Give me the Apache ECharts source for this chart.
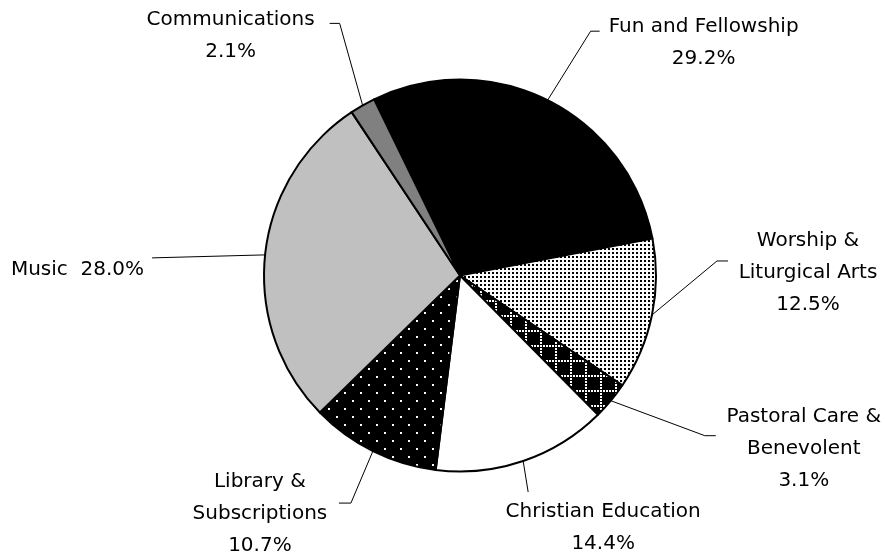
<!DOCTYPE html>
<html>
<head>
<meta charset="utf-8">
<script src="https://cdn.jsdelivr.net/npm/echarts@6/dist/echarts.min.js"></script>
<style>
  html, body { margin: 0; padding: 0; background: #fff; }
  #chart { width: 885px; height: 559px; }
</style>
</head>
<body>
<div id="chart"></div>
<script>
// ---- data ----
const categories = ['Fun and Fellowship', 'Worship &\nLiturgical Arts', 'Pastoral Care &\nBenevolent',
  'Christian Education', 'Library &\nSubscriptions', 'Music', 'Communications'];
const values = [29.2, 12.5, 3.1, 14.4, 10.7, 28.0, 2.1];
const labelSeparators = ['\n', '\n', '\n', '\n', '\n', '  ', '\n'];

// ---- styles ----
function makePattern(size, bg, fg, draw) {
  const c = document.createElement('canvas');
  c.width = size; c.height = size;
  const ctx = c.getContext('2d');
  ctx.fillStyle = bg; ctx.fillRect(0, 0, size, size);
  ctx.fillStyle = fg;
  draw(ctx);
  return { image: c, repeat: 'repeat' };
}
const fineDots = makePattern(4, '#fff', '#000', ctx => ctx.fillRect(0, 0, 2, 2));
const checkGrid = makePattern(15, '#000', '#fff', ctx => {
  for (let i = 0; i < 15; i += 3) { ctx.fillRect(i, 0, 2, 2); ctx.fillRect(0, i, 2, 2); }
});
const sparseDots = makePattern(16, '#000', '#fff', ctx => { ctx.fillRect(0, 0, 2, 2); ctx.fillRect(8, 8, 2, 2); });
const fills = ['#000000', fineDots, checkGrid, '#ffffff', sparseDots, '#c0c0c0', '#808080'];

// leader layout per slice: elbow offset from slice edge, stub length, text offset from stub end, align
const leaderLayout = [
  [43, -69, 9, 104, -4, 'center'],
  [65, -54, 11, 80, -20, 'center'],
  [94, 35, 11, 88, -19, 'center'],
  [5, 31, 0, 75, 20, 'center'],
  [-22, 52, -12, -79, -21, 'center'],
  [-113, 3, 0, -8, 12, 'right'],
  [-23, -82, -10, -99, -4, 'center']
];
const LINE_H = 32;
const FONT = 'DejaVu Sans';

const chart = echarts.init(document.getElementById('chart'), null, { renderer: 'canvas' });
chart.setOption({
  animation: false,
  backgroundColor: '#ffffff',
  series: [{
    type: 'pie',
    center: [460, 275.5],
    radius: 196,
    startAngle: 116,
    clockwise: true,
    avoidLabelOverlap: false,
    emphasis: { disabled: true },
    itemStyle: { borderColor: '#000', borderWidth: 2 },
    label: {
      show: true,
      position: 'outside',
      color: '#000',
      fontFamily: FONT,
      fontSize: 20,
      lineHeight: LINE_H,
      align: 'center',
      formatter: p => p.name + labelSeparators[p.dataIndex] + p.value.toFixed(1) + '%'
    },
    labelLine: { show: true, length: 20, length2: 10, smooth: false, lineStyle: { color: '#000', width: 1 } },
    labelLayout: function (params) {
      const L = leaderLayout[params.dataIndex];
      const p0 = params.labelLinePoints[0];
      const elbow = [p0[0] + L[0], p0[1] + L[1]];
      const end = [elbow[0] + L[2], elbow[1]];
      return {
        x: end[0] + L[3],
        y: end[1] + L[4] - LINE_H / 2,
        align: L[5],
        verticalAlign: 'top',
        hideOverlap: false,
        moveOverlap: null,
        labelLinePoints: [p0, elbow, end]
      };
    },
    data: categories.map((name, i) => ({ name: name, value: values[i], itemStyle: { color: fills[i] } }))
  }]
});
</script>
</body>
</html>
